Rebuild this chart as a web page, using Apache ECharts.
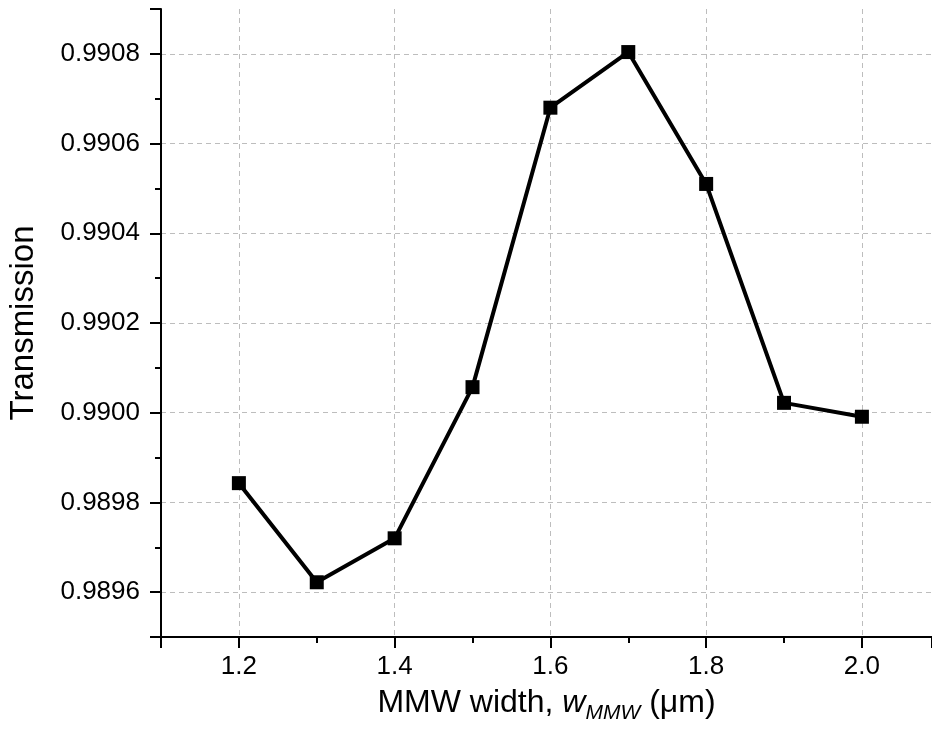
<!DOCTYPE html>
<html>
<head>
<meta charset="utf-8">
<script src="https://cdn.jsdelivr.net/npm/echarts@6/dist/echarts.min.js"></script>
<style>html,body{margin:0;padding:0;background:#fff;}#c{width:932px;height:731px;}</style>
</head>
<body>
<div id="c"></div>
<script>
const widths = [1.2, 1.3, 1.4, 1.5, 1.6, 1.7, 1.8, 1.9, 2.0];
const transmission = [0.989843, 0.989622, 0.989720, 0.990057, 0.990680, 0.990804, 0.990510, 0.990022, 0.989991];
const xTitle = 'MMW width, ';
const xSym = 'w';
const xSub = 'MMW';
const xUnit = ' (μm)';
const yTitle = 'Transmission';

const FONT = "'Liberation Sans', Arial, sans-serif";
const chart = echarts.init(document.getElementById('c'), null, {renderer: 'canvas'});
chart.setOption({
  animation: false,
  backgroundColor: '#fff',
  grid: {left: 161, right: 0, top: 9, bottom: 94, containLabel: false, outerBoundsMode: 'none'},
  xAxis: {
    type: 'value', min: 1.1, max: 2.09, splitNumber: 5,
    axisLine: {lineStyle: {color: '#000', width: 2}},
    axisTick: {length: 11, lineStyle: {color: '#000', width: 2}},
    minorTick: {show: true, splitNumber: 2, length: 6, lineStyle: {color: '#000', width: 2}},
    axisLabel: {color: '#000', fontSize: 26, fontFamily: FONT, margin: 17, showMinLabel: false, showMaxLabel: false,
      formatter: v => v.toFixed(1)},
    splitLine: {show: true, showMinLine: false, showMaxLine: false, lineStyle: {color: '#bdbdbd', width: 1, type: [5, 4]}},
    name: '{a|' + xTitle + '}{i|' + xSym + '}{s|' + xSub + '}{a|' + xUnit + '}',
    nameLocation: 'middle', nameGap: 50,
    nameTextStyle: {
      rich: {
        a: {fontSize: 32, fontFamily: FONT, color: '#000', lineHeight: 38, verticalAlign: 'top'},
        i: {fontSize: 32, fontFamily: FONT, fontStyle: 'italic', color: '#000', lineHeight: 38, verticalAlign: 'top'},
        s: {fontSize: 21, fontFamily: FONT, fontStyle: 'italic', color: '#000', lineHeight: 38, verticalAlign: 'top', padding: [16, 0, 0, 0]}
      }
    }
  },
  yAxis: {
    type: 'value', min: 0.9895, max: 0.9909, splitNumber: 7,
    axisLine: {show: true, lineStyle: {color: '#000', width: 2}},
    axisTick: {show: true, length: 11, lineStyle: {color: '#000', width: 2}},
    minorTick: {show: true, splitNumber: 2, length: 6, lineStyle: {color: '#000', width: 2}},
    axisLabel: {color: '#000', fontSize: 26, fontFamily: FONT, margin: 21, showMinLabel: false, showMaxLabel: false,
      formatter: v => v.toFixed(4)},
    splitLine: {show: true, showMinLine: false, showMaxLine: false, lineStyle: {color: '#bdbdbd', width: 1, type: [5, 4]}},
    name: yTitle, nameLocation: 'middle', nameGap: 121,
    nameTextStyle: {fontSize: 33, fontFamily: FONT, color: '#000'}
  },
  series: [{
    type: 'line',
    data: widths.map((w, i) => [w, transmission[i]]),
    symbol: 'rect', symbolSize: 14,
    lineStyle: {color: '#000', width: 4},
    itemStyle: {color: '#000'},
    z: 3
  }]
});
</script>
</body>
</html>
